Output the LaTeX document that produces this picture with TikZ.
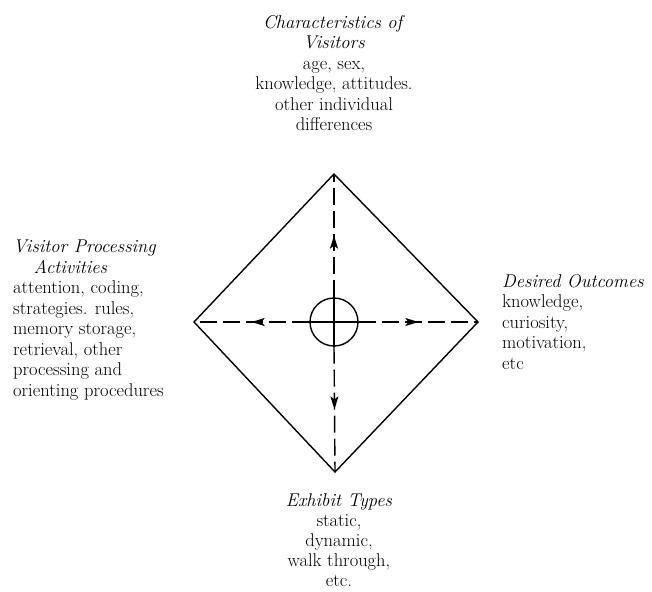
\documentclass[tikz,border=0pt]{standalone}
\usetikzlibrary{arrows.meta,decorations.markings}
\begin{document}
\begin{tikzpicture}[x=1pt,y=-1pt,
  edge/.style={line width=1.4pt,line join=miter},
  flow/.style={line width=1.4pt, dash pattern=on 17pt off 6pt, postaction={decorate},
    decoration={markings, mark=at position 0.5 with {\arrow{Stealth[length=13pt,width=8pt,inset=3pt]}}}},
  hub/.style={circle, draw, line width=1.4pt, minimum size=48pt, inner sep=0pt},
  lbl/.style={inner sep=0pt, font=\fontsize{18.5}{20.5}\selectfont},
]
\useasboundingbox (0,0) rectangle (652,591);
\coordinate (T) at (334,174);
\coordinate (B) at (335,472);
\coordinate (L) at (194,322);
\coordinate (R) at (478,322);
\draw[edge] (T) -- (R) -- (B) -- (L) -- cycle;
\node[hub] (c) at (334,322) {};
\draw[line width=1.4pt] (c.north) -- (c.south) (c.west) -- (c.east);
\draw[flow] (c.north) -- (T);
\draw[flow] (c.south) -- (B);
\draw[flow] (c.west) -- (L);
\draw[flow] (c.east) -- (R);
\node[lbl, anchor=north, align=center] (top) at (334,15)
  {\textit{Characteristics of}\\\textit{Visitors}\\age, sex,\\knowledge, attitudes.\\other individual\\differences};
\node[lbl, anchor=north west, align=left] (left) at (13,240)
  {\textit{Visitor Processing}\\\hspace*{1.1em}\textit{Activities}\\attention, coding,\\strategies. rules,\\memory storage,\\retrieval, other\\processing and\\orienting procedures};
\node[lbl, anchor=north west, align=left] (right) at (502,274)
  {\textit{Desired Outcomes}\\knowledge,\\curiosity,\\motivation,\\etc};
\node[lbl, anchor=north, align=center, font=\fontsize{18.5}{20}\selectfont] (bottom) at (339,493)
  {\textit{Exhibit Types}\\static,\\dynamic,\\walk through,\\etc.};
\end{tikzpicture}
\end{document}
